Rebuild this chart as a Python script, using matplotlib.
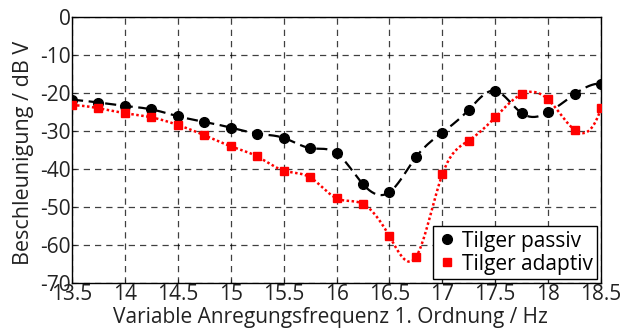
import numpy as np
import matplotlib
matplotlib.use("Agg")
import matplotlib.pyplot as plt

plt.rcParams['font.family'] = ['Open Sans', 'DejaVu Sans']

freq = [13.5, 13.75, 14.0, 14.25, 14.5, 14.75, 15.0, 15.25, 15.5, 15.75, 16.0,
        16.25, 16.5, 16.75, 17.0, 17.25, 17.5, 17.75, 18.0, 18.25, 18.5]
passiv = [-21.8, -22.5, -23.4, -24.3, -26.1, -27.6, -29.1, -30.7, -31.8, -34.5, -35.8,
          -44.0, -46.1, -36.9, -30.4, -24.4, -19.4, -25.3, -25.1, -20.3, -17.5]
adaptiv = [-23.2, -24.0, -25.3, -26.4, -28.4, -31.1, -34.0, -36.7, -40.4, -42.2, -47.7,
           -49.2, -57.7, -63.2, -41.4, -32.5, -26.4, -20.3, -21.7, -29.7, -24.0]
xticks = [13.5, 14, 14.5, 15, 15.5, 16, 16.5, 17, 17.5, 18, 18.5]
yticks = [0, -10, -20, -30, -40, -50, -60, -70]


def spline(x, y, n=400):
    x = np.asarray(x, float)
    y = np.asarray(y, float)
    m = len(x)
    h = np.diff(x)
    A = np.zeros((m, m))
    b = np.zeros(m)
    # not-a-knot end conditions
    A[0, 0] = h[1]
    A[0, 1] = -(h[0] + h[1])
    A[0, 2] = h[0]
    A[-1, -3] = h[-1]
    A[-1, -2] = -(h[-2] + h[-1])
    A[-1, -1] = h[-2]
    for i in range(1, m - 1):
        A[i, i - 1] = h[i - 1]
        A[i, i] = 2 * (h[i - 1] + h[i])
        A[i, i + 1] = h[i]
        b[i] = 3 * ((y[i + 1] - y[i]) / h[i] - (y[i] - y[i - 1]) / h[i - 1])
    c = np.linalg.solve(A, b)
    xs = np.linspace(x[0], x[-1], n)
    idx = np.clip(np.searchsorted(x, xs) - 1, 0, m - 2)
    dx = xs - x[idx]
    bb = (y[1:] - y[:-1]) / h - h * (2 * c[:-1] + c[1:]) / 3
    d = (c[1:] - c[:-1]) / (3 * h)
    ys = y[idx] + bb[idx] * dx + c[idx] * dx ** 2 + d[idx] * dx ** 3
    return xs, ys


fig = plt.figure(figsize=(6.34, 3.29), dpi=100)
ax = fig.add_axes([0.1136, 0.1398, 0.8344, 0.8084])

xs, ys = spline(freq, passiv)
ax.plot(xs, ys, color='black', linestyle=(0, (5, 2.5)), linewidth=1.6, zorder=3)
xs, ys = spline(freq, adaptiv)
ax.plot(xs, ys, color='red', linestyle=(0, (1, 1)), linewidth=1.8, zorder=3)

ax.plot(freq, passiv, 'o', color='black', markersize=7, linestyle='none',
        label='Tilger passiv', zorder=4)
ax.plot(freq, adaptiv, 's', color='red', markersize=5.5, linestyle='none',
        label='Tilger adaptiv', zorder=4)

ax.set_xlim(13.5, 18.5)
ax.set_ylim(-70, 0)
ax.set_xticks(xticks)
ax.set_xticklabels([f'{t:g}' for t in xticks])
ax.set_yticks(yticks)
ax.set_yticklabels([f'{t:g}' for t in yticks])
ax.grid(True, color='black', linestyle=(0, (5, 4)), linewidth=0.9, alpha=0.75)
ax.set_axisbelow(True)
ax.tick_params(direction='in', length=3, labelsize=15, pad=1, colors='#222222')
for s in ax.spines.values():
    s.set_linewidth(1.0)
    s.set_color('black')

ax.set_xlabel('Variable Anregungsfrequenz 1. Ordnung / Hz', fontsize=15, color='#222222',
              va='bottom')
ax.set_ylabel('Beschleunigung / dB V', fontsize=15.5, color='#222222', va='center')
ax.yaxis.set_label_coords(-0.091, 0.49)
ax.xaxis.set_label_coords(0.489, -0.17)

leg = ax.legend(loc='lower right', fontsize=15, frameon=True, fancybox=False,
                edgecolor='black', framealpha=1, borderpad=0.2, handletextpad=0.2,
                handlelength=1.0, labelspacing=0.1, borderaxespad=0.2)
leg.get_frame().set_linewidth(1.0)

fig.savefig('out.png', dpi=100)
